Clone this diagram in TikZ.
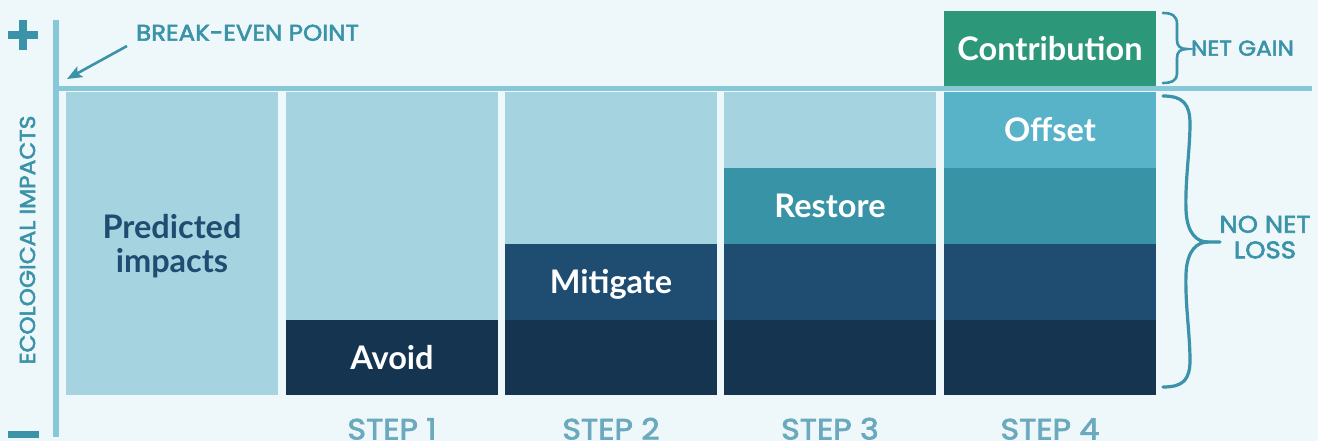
\documentclass[tikz,border=0pt]{standalone}
\usepackage{fontspec}
\setmainfont{Lato}
\newfontfamily\geo[FakeBold=2.5,FakeStretch=1.08]{Poppins}
\usetikzlibrary{arrows.meta}
\definecolor{bgc}{HTML}{EEF7FA}
\definecolor{lightc}{HTML}{A5D4E0}
\definecolor{darkc}{HTML}{15344F}
\definecolor{midc}{HTML}{1E4D71}
\definecolor{restc}{HTML}{3893A7}
\definecolor{offc}{HTML}{58B3C8}
\definecolor{contc}{HTML}{2C9779}
\definecolor{axisc}{HTML}{86C8D8}
\definecolor{tealc}{HTML}{3A93A8}
\definecolor{stepc}{HTML}{6BA9BE}
\begin{document}
\begin{tikzpicture}[x=1pt,y=-1pt,
  block/.style={inner sep=0pt, minimum width=212pt, text height=23.3pt, text depth=0pt,
    font=\fontsize{32.5}{39}\selectfont\bfseries, text=white},
  lbl/.style={font=\geo\fontsize{22.7}{27}\selectfont, text=tealc, inner sep=0pt, anchor=base},
  steplbl/.style={font=\geo\fontsize{29.4}{34}\selectfont, text=stepc, inner sep=0pt, anchor=base},
  axisline/.style={draw=axisc},
  bracec/.style={draw=tealc, line width=3.2pt, line cap=round}]
\fill[bgc] (0,0) rectangle (1318,441);
\useasboundingbox (0,0) rectangle (1318,441);
% column 0
\node[block, fill=lightc, minimum height=303pt] (pred) at (172,243.5) {};
\node[font=\fontsize{32.5}{39}\selectfont\bfseries, text=midc, inner sep=0pt, anchor=base] (pred1) at (172,238) {Predicted};
\node[font=\fontsize{32.5}{39}\selectfont\bfseries, text=midc, inner sep=0pt, anchor=base] (pred2) at (172,272) {impacts};
% column 1
\node[block, fill=lightc, minimum height=228pt] (c1top) at (392,206) {};
\node[block, fill=darkc, minimum height=75pt] (avoid) at (392,357.5) {Avoid};
% column 2
\node[block, fill=lightc, minimum height=152pt] (c2top) at (611,168) {};
\node[block, fill=midc, minimum height=76pt] (mitigate) at (611,282) {Mitigate};
\node[block, fill=darkc, minimum height=75pt] (c2a) at (611,357.5) {};
% column 3
\node[block, fill=lightc, minimum height=76pt] (c3top) at (830,130) {};
\node[block, fill=restc, minimum height=76pt] (restore) at (830,206) {Restore};
\node[block, fill=midc, minimum height=76pt] (c3m) at (830,282) {};
\node[block, fill=darkc, minimum height=75pt] (c3a) at (830,357.5) {};
% column 4
\node[block, fill=contc, minimum height=75.5pt] (contrib) at (1050,48.75) {Contribution};
\node[block, fill=offc, minimum height=76pt] (offset) at (1050,130) {Offset};
\node[block, fill=restc, minimum height=76pt] (c4r) at (1050,206) {};
\node[block, fill=midc, minimum height=76pt] (c4m) at (1050,282) {};
\node[block, fill=darkc, minimum height=75pt] (c4a) at (1050,357.5) {};
% axes
\draw[axisline, line width=6pt] (56,20) -- (56,437);
\draw[axisline, line width=5.5pt] (59,88.5) -- (1312,88.5);
% plus / minus
\fill[tealc] (19.3,20) rectangle (27.3,50);
\fill[tealc] (8.3,30.7) rectangle (38.3,39.3);
\fill[tealc] (8.3,431) rectangle (39,437.7);
% labels
\node[lbl] (bep) at (247.5,40.7) {BREAK-EVEN POINT};
\coordinate (beptail) at (127,46);
\coordinate (origin) at (67,79);
\draw[tealc, line width=2.6pt, -{Stealth[length=15pt,width=12pt,inset=3pt]}] (beptail) -- (origin);
\node[lbl, font=\geo\fontsize{21.5}{25}\selectfont, rotate=90] (eco) at (35,240) {ECOLOGICAL IMPACTS};
\node[lbl, font=\geo\fontsize{21.5}{25}\selectfont] (netgain) at (1242.5,55.7) {NET GAIN};
\node[lbl, font=\geo\fontsize{24}{28}\selectfont] (nonet) at (1265,232.7) {NO NET};
\node[lbl, font=\geo\fontsize{24}{28}\selectfont] (loss) at (1265,258.3) {LOSS};
% steps
\node[steplbl] (s1) at (392,439.5) {STEP 1};
\node[steplbl] (s2) at (611,439.5) {STEP 2};
\node[steplbl] (s3) at (830,439.5) {STEP 3};
\node[steplbl] (s4) at (1050,439.5) {STEP 4};
% braces
\draw[bracec, line width=2.6pt] (1163,13) .. controls (1172,13) and (1177,16) .. (1177,24) -- (1177,40)
  .. controls (1177,46) and (1180,49) .. (1187,49)
  .. controls (1180,49) and (1177,52) .. (1177,58) -- (1177,74)
  .. controls (1177,80) and (1172,83) .. (1163,83);
\draw[bracec] (1163,96) .. controls (1183,96) and (1190,104) .. (1190,124)
  .. controls (1190,150) and (1185,180) .. (1186,210)
  .. controls (1187,235) and (1198,242) .. (1208,242) -- (1220,242);
\draw[bracec] (1208,242) .. controls (1198,242) and (1187,249) .. (1186,274)
  .. controls (1185,304) and (1190,334) .. (1190,360)
  .. controls (1190,380) and (1183,387) .. (1163,387);
\end{tikzpicture}
\end{document}
